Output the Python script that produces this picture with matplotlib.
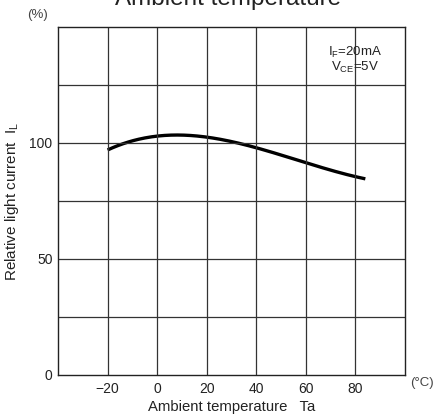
import matplotlib
matplotlib.use("Agg")
import matplotlib.pyplot as plt
import numpy as np

temps = [-20, -10, 0, 8, 20, 30, 40, 50, 60, 70, 80, 84]
rel_current = [96.8, 101.0, 103.2, 103.7, 102.4, 100.3, 97.8, 94.7, 91.6, 88.7, 85.9, 84.0]
xticks = [-20, 0, 20, 40, 60, 80]
xticklabels = ["\u221220", "0", "20", "40", "60", "80"]
yticks = [0, 50, 100]

plt.rcParams['font.family'] = ['Liberation Sans', 'DejaVu Sans']

fig = plt.figure(figsize=(4.33, 4.16), dpi=100)
W, H = 433, 416
ax = fig.add_axes([58 / W, 1 - 375 / H, (405 - 58) / W, (375 - 27) / H])

xs = np.linspace(temps[0], temps[-1], 200)
c = np.polyfit(temps, rel_current, 3)
ys = np.polyval(c, xs)
ax.plot(xs, ys, color='black', lw=2.4, solid_capstyle='butt')

ax.set_xlim(-40, 100)
ax.set_ylim(0, 150)
ax.set_xticks(xticks)
ax.set_xticklabels(xticklabels)
ax.set_yticks(yticks)
for v in [-20, 0, 20, 40, 60, 80]:
    ax.axvline(v, color='#333333', lw=0.9)
for v in [25, 50, 75, 100, 125]:
    ax.axhline(v, color='#333333', lw=0.9)
ax.tick_params(length=0, labelsize=10, colors='#222222')
ax.tick_params(axis='x', pad=5)
ax.tick_params(axis='y', pad=4)
for s in ax.spines.values():
    s.set_color('#222222')
    s.set_linewidth(1.0)

ax.set_xlabel("Ambient temperature   Ta", fontsize=10.7, labelpad=3, color='#222222')
ax.set_ylabel("Relative light current  I$_\\mathregular{L}$", fontsize=11, labelpad=6, color='#222222')

fig.text(228 / W, 1 - 5 / H, "Ambient temperature", fontsize=17.5, ha='center', va='baseline', color='#222222')
fig.text(38 / W, 1 - 15 / H, "(%)", fontsize=9.5, ha='center', va='center', color='#444444')
fig.text(410 / W, 1 - 383 / H, "(\u00b0C)", fontsize=9.5, ha='left', va='center', color='#444444')
fig.text(355 / W, 1 - 52 / H, "I$_\\mathregular{F}$=20mA", fontsize=9.5, ha='center', va='center', color='#222222')
fig.text(355 / W, 1 - 67 / H, "V$_\\mathregular{CE}$=5V", fontsize=9.5, ha='center', va='center', color='#222222')

fig.savefig("out.png", dpi=100)
